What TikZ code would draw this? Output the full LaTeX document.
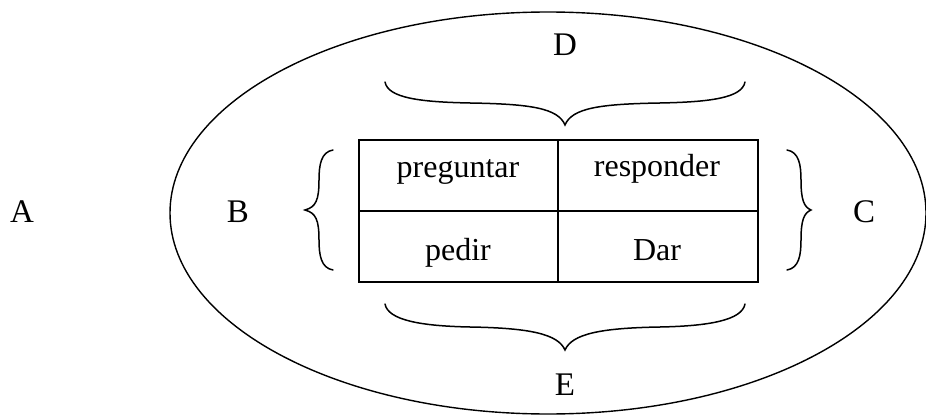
\documentclass[tikz,border=0pt]{standalone}
\usepackage{fontspec}
\setmainfont{Liberation Serif}
\begin{document}
\begin{tikzpicture}[x=1pt,y=-1pt,
  lbl/.style={inner sep=0pt, anchor=base, font=\fontsize{33}{38}\selectfont},
  cell/.style={draw, line width=1.6pt, inner sep=0pt, anchor=north west,
    minimum height=71pt},
  word/.style={inner sep=0pt, anchor=base, font=\fontsize{32}{38}\selectfont},
  brace/.style={line width=1.5pt, line cap=round}]
\useasboundingbox (0,0) rectangle (926,417);

% outer ellipse
\draw[line width=1.4pt] (548,213) ellipse [x radius=378, y radius=201];

% two-by-two table
\node[cell, minimum width=199pt] (c11) at (358,139) {};
\node[cell, minimum width=200pt] (c12) at (557,139) {};
\node[cell, minimum width=199pt] (c21) at (358,210) {};
\node[cell, minimum width=200pt] (c22) at (557,210) {};
\node[word] (w11) at (458,177) {preguntar};
\node[word] (w12) at (657,176) {responder};
\node[word] (w21) at (458,260) {pedir};
\node[word] (w22) at (657,260) {Dar};

% braces around the table
\draw[brace] (385,82) .. controls (388,98) and (420,102) .. (470,103)
  .. controls (530,104) and (558,108) .. (565,125)
  .. controls (572,108) and (600,104) .. (660,103)
  .. controls (710,102) and (742,98) .. (745,82);
\draw[brace] (385,304) .. controls (388,320) and (420,326) .. (470,327)
  .. controls (530,328) and (558,334) .. (565,350)
  .. controls (572,334) and (600,328) .. (660,327)
  .. controls (710,326) and (742,320) .. (745,304);
\draw[brace] (333,150) .. controls (321,152) and (319,165) .. (319,180)
  .. controls (319,200) and (316,207) .. (305,210)
  .. controls (316,213) and (319,220) .. (319,240)
  .. controls (319,255) and (321,268) .. (333,270);
\draw[brace] (787,150) .. controls (799,152) and (801,165) .. (801,180)
  .. controls (801,200) and (804,207) .. (811,210)
  .. controls (804,213) and (801,220) .. (801,240)
  .. controls (801,255) and (799,268) .. (787,270);

% labels
\node[lbl] (A) at (22,222) {A};
\node[lbl] (B) at (238,222) {B};
\node[lbl] (C) at (864,222) {C};
\node[lbl] (D) at (565,56) {D};
\node[lbl] (E) at (565,395) {E};
\end{tikzpicture}
\end{document}
